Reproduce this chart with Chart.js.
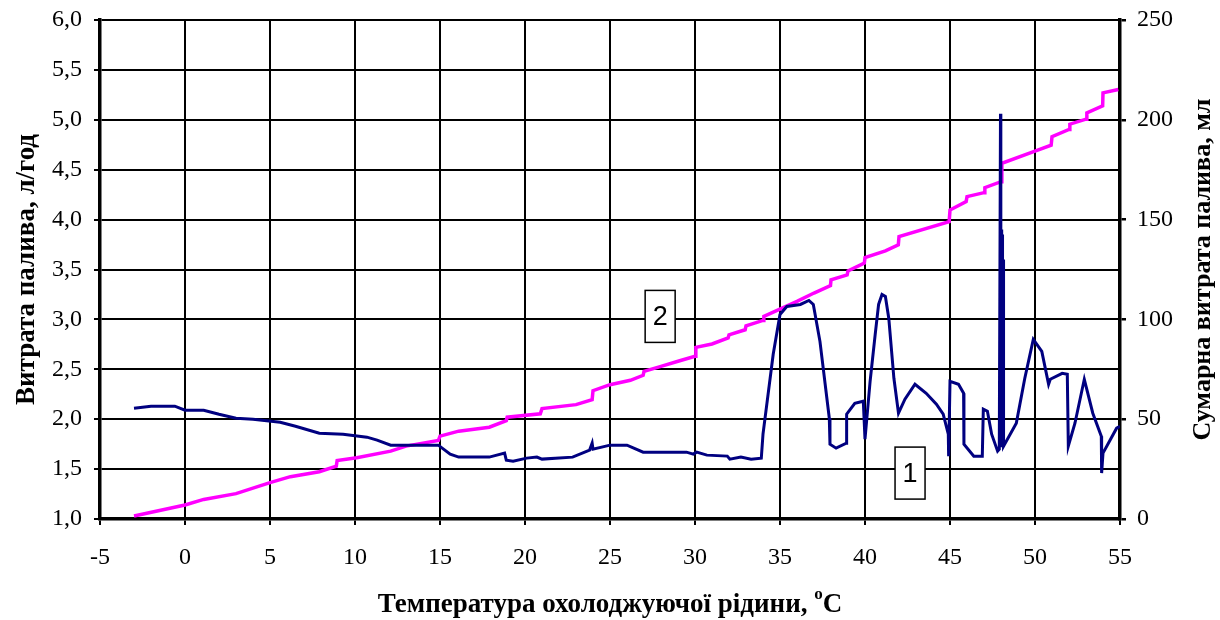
<!DOCTYPE html>
<html>
<head>
<meta charset="utf-8">
<script src="https://cdn.jsdelivr.net/npm/chart.js@4"></script>
<style>
  body { margin: 0; background: #fff; }
  #wrap { width: 1220px; height: 620px; }
</style>
</head>
<body>
<div id="wrap"><canvas id="fuelChart" width="1220" height="620"></canvas></div>
<script>
// curve 1 - fuel flow, l/h (left axis)
const tempFlow = [-3, -2, -0.6, 0, 1.1, 2, 3, 4, 5.6, 6.5, 7.9, 9.3, 10.7, 11.3, 12.1, 14.9, 15.6, 16.1, 17.9, 18.8, 18.9, 19.3, 20.1, 20.7, 21, 22.8, 23.8, 23.95, 24.0, 25, 26, 26.95, 29.5, 29.9, 30.1, 30.7, 31.9, 32.05, 32.7, 33.3, 33.9, 34.0, 34.6, 35.0, 35.4, 36.2, 36.7, 36.96, 37.35, 37.9, 37.94, 38.3, 38.9, 38.92, 39.4, 39.9, 40.0, 40.3, 40.6, 40.8, 41.0, 41.2, 41.4, 41.7, 41.97, 42.35, 42.94, 43.6, 44.2, 44.6, 44.9, 44.92, 45.0, 45.5, 45.8, 45.82, 46.4, 46.9, 46.96, 47.2, 47.45, 47.8, 47.9, 47.97, 47.99, 48.02, 48.04, 48.07, 48.09, 48.12, 48.15, 48.9, 49.4, 49.9, 50.4, 50.8, 50.9, 51.6, 51.9, 51.96, 52.35, 52.9, 53.4, 53.9, 53.92, 54.0, 54.8, 55];
const flow = [2.11, 2.13, 2.13, 2.09, 2.09, 2.05, 2.01, 2.0, 1.97, 1.93, 1.86, 1.85, 1.82, 1.79, 1.74, 1.74, 1.65, 1.62, 1.62, 1.66, 1.59, 1.58, 1.61, 1.62, 1.60, 1.62, 1.69, 1.76, 1.70, 1.74, 1.74, 1.67, 1.67, 1.65, 1.67, 1.64, 1.63, 1.60, 1.62, 1.60, 1.61, 1.85, 2.65, 3.05, 3.13, 3.15, 3.19, 3.15, 2.78, 2.01, 1.75, 1.71, 1.76, 2.05, 2.16, 2.18, 1.80, 2.38, 2.85, 3.15, 3.25, 3.23, 3.01, 2.41, 2.06, 2.20, 2.35, 2.26, 2.15, 2.05, 1.85, 1.63, 2.38, 2.35, 2.26, 1.75, 1.63, 1.63, 2.10, 2.08, 1.85, 1.68, 1.70, 5.06, 1.72, 3.9, 2.2, 3.85, 2.25, 3.6, 1.73, 1.96, 2.41, 2.80, 2.68, 2.35, 2.40, 2.46, 2.45, 1.73, 1.96, 2.40, 2.06, 1.83, 1.46, 1.66, 1.91, 1.93];

// curve 2 - cumulative fuel, ml (right axis)
const tempSum = [-3, 0, 1.1, 3, 5, 6.2, 7.9, 8.9, 8.95, 10.1, 12.1, 13.0, 14.9, 15.0, 16.1, 17.9, 18.9, 18.95, 20.9, 21.0, 23.0, 23.95, 24.0, 25, 26.2, 26.95, 27.0, 28, 29.1, 30.0, 30.05, 31.0, 31.95, 32.0, 32.95, 33.0, 34.0, 34.05, 36.0, 37.0, 37.97, 38.0, 38.95, 39.0, 39.96, 40.0, 41.2, 41.96, 42.0, 44.95, 45.0, 45.95, 46.0, 47.0, 47.05, 48.0, 48.05, 50.0, 50.95, 51.0, 52.0, 52.05, 53.0, 53.05, 53.98, 54.0, 54.9];
const sumFuel = [1.5, 7, 9.8, 12.7, 18.2, 21.2, 23.7, 26.5, 29.3, 30.7, 34, 36.5, 39.3, 41.5, 44, 46, 49.3, 51, 52.7, 55.3, 57.3, 59.8, 64.3, 67.3, 69.5, 72, 74, 76.5, 79.3, 81.5, 86, 87.7, 90.7, 92.3, 94.8, 96.8, 99.5, 101.5, 109, 113.2, 117, 119.8, 122.3, 124.3, 128.2, 131, 134.3, 137.3, 141.5, 149, 154.8, 159, 161.5, 163.5, 166, 169, 178.2, 184.3, 187.3, 191.5, 195.2, 197.8, 200.3, 203.5, 207, 213.5, 215.2];

const leftTicks = ['1,0', '1,5', '2,0', '2,5', '3,0', '3,5', '4,0', '4,5', '5,0', '5,5', '6,0'];
const rightTicks = ['0', '50', '100', '150', '200', '250'];

// curve number boxes: text, x (°C), y (l/h)
const markText = ['2', '1'];
const markX = [27.95, 42.65];
const markY = [3.03, 1.46];

const serif = 'Liberation Serif, Times New Roman, serif';

const titlesPlugin = {
  id: 'titles',
  afterDraw(chart) {
    const ctx = chart.ctx;
    const ca = chart.chartArea;
    const midY = (ca.top + ca.bottom) / 2;
    ctx.save();
    ctx.fillStyle = '#000';
    ctx.font = 'bold 27px ' + serif;
    ctx.textAlign = 'center';
    ctx.textBaseline = 'middle';

    ctx.save();
    ctx.translate(27, midY);
    ctx.rotate(-Math.PI / 2);
    ctx.fillText('Витрата палива, л/год', 0, 0);
    ctx.restore();

    ctx.save();
    ctx.translate(1203, midY);
    ctx.rotate(-Math.PI / 2);
    ctx.font = 'bold 26px ' + serif;
    ctx.fillText('Сумарна витрата палива, мл', 0, 0);
    ctx.restore();

    // x title with superscript o
    const main = 'Температура охолоджуючої рідини, ';
    ctx.textAlign = 'left';
    const w1 = ctx.measureText(main).width;
    ctx.font = 'bold 17px ' + serif;
    const w2 = ctx.measureText('o').width;
    ctx.font = 'bold 27px ' + serif;
    const w3 = ctx.measureText('C').width;
    const x0 = (ca.left + ca.right) / 2 - (w1 + w2 + w3) / 2;
    const ty = 605;
    ctx.fillText(main, x0, ty);
    ctx.font = 'bold 17px ' + serif;
    ctx.fillText('o', x0 + w1, ty - 10);
    ctx.font = 'bold 27px ' + serif;
    ctx.fillText('C', x0 + w1 + w2, ty);

    // numbered boxes
    const xs = chart.scales.x, ys = chart.scales.y;
    ctx.font = '27px Liberation Sans, Arial, sans-serif';
    ctx.textAlign = 'center';
    markText.forEach((t, i) => {
      const cx = xs.getPixelForValue(markX[i]);
      const cy = ys.getPixelForValue(markY[i]);
      ctx.fillStyle = '#fff';
      ctx.fillRect(cx - 15, cy - 26, 30, 52);
      ctx.strokeStyle = '#000';
      ctx.lineWidth = 1.5;
      ctx.strokeRect(cx - 15, cy - 26, 30, 52);
      ctx.fillStyle = '#000';
      ctx.fillText(t, cx, cy + 1);
    });
    ctx.restore();
  }
};

new Chart(document.getElementById('fuelChart'), {
  type: 'line',
  data: {
    datasets: [{
      label: '1',
      data: tempFlow.map((t, i) => ({ x: t, y: flow[i] })),
      borderColor: '#000080',
      borderWidth: 3,
      pointRadius: 0,
      tension: 0,
      yAxisID: 'y'
    }, {
      label: '2',
      data: tempSum.map((t, i) => ({ x: t, y: sumFuel[i] })),
      borderColor: '#ff00ff',
      borderWidth: 3.5,
      pointRadius: 0,
      tension: 0,
      yAxisID: 'y2'
    }]
  },
  options: {
    responsive: false,
    animation: false,
    layout: { padding: { top: 20 } },
    plugins: { legend: { display: false }, tooltip: { enabled: false } },
    scales: {
      x: {
        type: 'linear',
        min: -5, max: 55,
        ticks: { stepSize: 5, color: '#000', font: { family: serif, size: 24 }, padding: 18, maxRotation: 0 },
        grid: { color: '#000', lineWidth: 2, tickLength: 6 },
        border: { color: '#000', width: 3.5 },
        afterFit(s) { s.height = 101; s.paddingLeft = 0; s.paddingRight = 0; }
      },
      y: {
        position: 'left',
        min: 1, max: 6,
        ticks: { stepSize: 0.5, color: '#000', font: { family: serif, size: 24 }, padding: 12,
          callback: (v, i) => leftTicks[i] },
        grid: { color: '#000', lineWidth: 2, tickLength: 6 },
        border: { color: '#000', width: 3.5 },
        afterFit(s) { s.width = 100; s.paddingTop = 0; s.paddingBottom = 0; }
      },
      y2: {
        position: 'right',
        min: 0, max: 250,
        ticks: { stepSize: 50, color: '#000', font: { family: serif, size: 24 }, padding: 11,
          callback: (v, i) => rightTicks[i] },
        grid: { drawOnChartArea: false, color: '#000', lineWidth: 2.5, tickLength: 6 },
        border: { color: '#000', width: 3.5 },
        afterFit(s) { s.width = 100; s.paddingTop = 0; s.paddingBottom = 0; }
      }
    }
  },
  plugins: [titlesPlugin]
});
</script>
</body>
</html>
